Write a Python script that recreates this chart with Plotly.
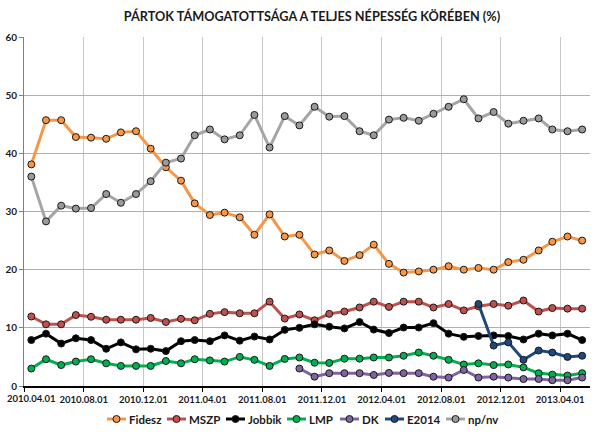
import pandas as pd
import plotly.graph_objects as go

months = pd.date_range(start="2010-04-01", periods=38, freq="MS")
tick_dates = pd.date_range(start="2010-04-01", end="2013-04-01", freq="4MS")
tick_labels = [d.strftime("%Y.%m.%d") for d in tick_dates]

fidesz = [38.1, 45.7, 45.7, 42.8, 42.7, 42.5, 43.6, 43.8, 40.8, 37.6, 35.3, 31.4,
          29.4, 29.8, 29.0, 26.0, 29.5, 25.7, 26.0, 22.6, 23.3, 21.5, 22.5, 24.3,
          21.0, 19.5, 19.7, 20.0, 20.6, 20.0, 20.3, 20.0, 21.3, 21.7, 23.3, 24.8, 25.7, 25.0]
mszp = [11.95, 10.6, 10.6, 12.2, 11.9, 11.4, 11.4, 11.4, 11.7, 11.0, 11.55, 11.3,
        12.4, 12.7, 12.5, 12.5, 14.5, 11.6, 12.3, 11.3, 12.4, 12.8, 13.5, 14.5, 13.6,
        14.5, 14.5, 13.5, 14.1, 13.0, 13.7, 14.1, 13.8, 14.7, 12.8, 13.4, 13.3, 13.3]
jobbik = [7.9, 9.0, 7.3, 8.2, 7.9, 6.4, 7.5, 6.3, 6.4, 6.0, 7.7, 7.9,
          7.7, 8.7, 7.8, 8.5, 8.0, 9.65, 10.0, 10.6, 10.2, 9.9, 11.0, 9.7, 9.1,
          10.05, 10.05, 10.8, 9.0, 8.45, 8.6, 8.7, 8.6, 8.0, 9.0, 8.7, 9.0, 7.9]
lmp = [3.0, 4.6, 3.6, 4.2, 4.6, 3.9, 3.45, 3.45, 3.45, 4.3, 3.9, 4.6,
       4.4, 4.2, 5.0, 4.5, 3.45, 4.65, 4.9, 4.0, 3.97, 4.7, 4.7, 4.9, 4.9,
       5.2, 5.75, 5.2, 4.5, 3.7, 3.9, 3.6, 3.7, 3.2, 2.2, 1.95, 1.8, 2.2]
dk = [None] * 18 + [3.0, 1.6, 2.2, 2.2, 2.2, 1.9, 2.25, 2.2, 2.2, 1.6, 1.45, 2.75,
                    1.45, 1.6, 1.45, 1.2, 1.2, 1.0, 1.0, 1.45]
e2014 = [None] * 30 + [14.1, 6.95, 7.5, 4.5, 6.1, 5.75, 5.0, 5.2]
npnv = [36.0, 28.3, 31.0, 30.5, 30.6, 33.0, 31.5, 33.0, 35.2, 38.4, 39.1, 43.1,
        44.1, 42.4, 43.1, 46.6, 41.0, 46.4, 44.8, 48.0, 46.3, 46.4, 43.8, 43.1,
        45.8, 46.1, 45.6, 46.8, 48.0, 49.3, 46.0, 47.1, 45.1, 45.6, 46.0, 44.1, 43.8, 44.1]

series_names = ["Fidesz", "MSZP", "Jobbik", "LMP", "DK", "E2014", "np/nv"]
series_values = [fidesz, mszp, jobbik, lmp, dk, e2014, npnv]
line_colors = ["#F79646", "#C0504D", "#000000", "#00B050", "#8064A2", "#1F497D", "#A5A5A5"]
marker_colors = ["#F79646", "#C0504D", "#000000", "#00B050", "#8064A2", "#1F497D", "#9A9A9A"]

W, H = 600, 436
ML, MR, MT, MB = 24, 10, 37, 50
PW, PH = W - ML - MR, H - MT - MB

# Excel date axis places monthly points in the middle of each month
xpos = months + pd.Timedelta(days=15)

FONT = "Lato"
TICKFONT = dict(family=FONT, size=9.5, color="#1a1a1a", weight="bold")
fig = go.Figure()
for name, vals, lc, mc in zip(series_names, series_values, line_colors, marker_colors):
    fig.add_trace(go.Scatter(
        x=xpos, y=vals, name=name, mode="lines+markers",
        line=dict(color=lc, width=3),
        marker=dict(color=mc, size=7, line=dict(color="#1a1a1a", width=1)),
        connectgaps=False, showlegend=False, hoverinfo="skip",
    ))

# Excel-style compact legend below the plot (layout positions in pixels)
legend_slots = [107, 167, 226, 287, 340, 385, 446]
legend_y_px = 419
sym_w = 19
ly = (H - MB - legend_y_px) / PH
for name, lc, mc, sx in zip(series_names, line_colors, marker_colors, legend_slots):
    x0 = (sx - ML) / PW
    x1 = (sx + sym_w - ML) / PW
    xm = (sx + sym_w / 2 - ML) / PW
    fig.add_shape(type="line", xref="paper", yref="paper", x0=x0, x1=x1, y0=ly, y1=ly,
                  line=dict(color=lc, width=3), layer="above")
    fig.add_shape(type="circle", xref="paper", yref="paper",
                  xsizemode="pixel", ysizemode="pixel", xanchor=xm, yanchor=ly,
                  x0=-3.5, x1=3.5, y0=-3.5, y1=3.5,
                  fillcolor=mc, line=dict(color="#1a1a1a", width=1), layer="above")
    fig.add_annotation(xref="paper", yref="paper", x=x1, y=ly, text=name,
                       xanchor="left", yanchor="middle", showarrow=False, xshift=1,
                       font=dict(family=FONT, size=11.5, color="#1a1a1a", weight="bold"))

# first date label is nudged inside the page, as Excel does
fig.add_annotation(xref="x", yref="paper", x=tick_dates[0], y=0, text=tick_labels[0],
                   xanchor="left", yanchor="top", xshift=-19, yshift=-5,
                   showarrow=False, font=TICKFONT)

fig.update_layout(
    width=W, height=H,
    paper_bgcolor="white", plot_bgcolor="white",
    margin=dict(l=ML, r=MR, t=MT, b=MB, autoexpand=False),
    title=dict(text="PÁRTOK TÁMOGATOTTSÁGA A TELJES NÉPESSÉG KÖRÉBEN (%)",
               x=0.52, xanchor="center", y=0.961, yanchor="middle",
               font=dict(family=FONT, size=12.7, color="#1a1a1a", weight="bold")),
    showlegend=False,
    hovermode=False,
)
fig.update_xaxes(
    type="date", range=["2010-04-01", "2013-06-01"], automargin=False,
    tickmode="array", tickvals=tick_dates, ticktext=[""] + tick_labels[1:],
    showgrid=True, gridcolor="#C8C8C8", gridwidth=1,
    showline=True, linecolor="#000000", linewidth=1.5,
    ticks="outside", ticklen=4, tickcolor="#000000",
    tickfont=TICKFONT,
)
fig.update_yaxes(
    range=[0, 60], dtick=10, automargin=False,
    showgrid=True, gridcolor="#B0B0B0", gridwidth=1,
    showline=True, linecolor="#808080", linewidth=1,
    ticks="outside", ticklen=4, tickcolor="#808080",
    zeroline=False,
    tickfont=dict(family=FONT, size=10, color="#1a1a1a", weight="bold"),
)

fig.write_html("out.html", config={"displayModeBar": False, "staticPlot": True},
               post_script="document.body.style.margin='0';")
